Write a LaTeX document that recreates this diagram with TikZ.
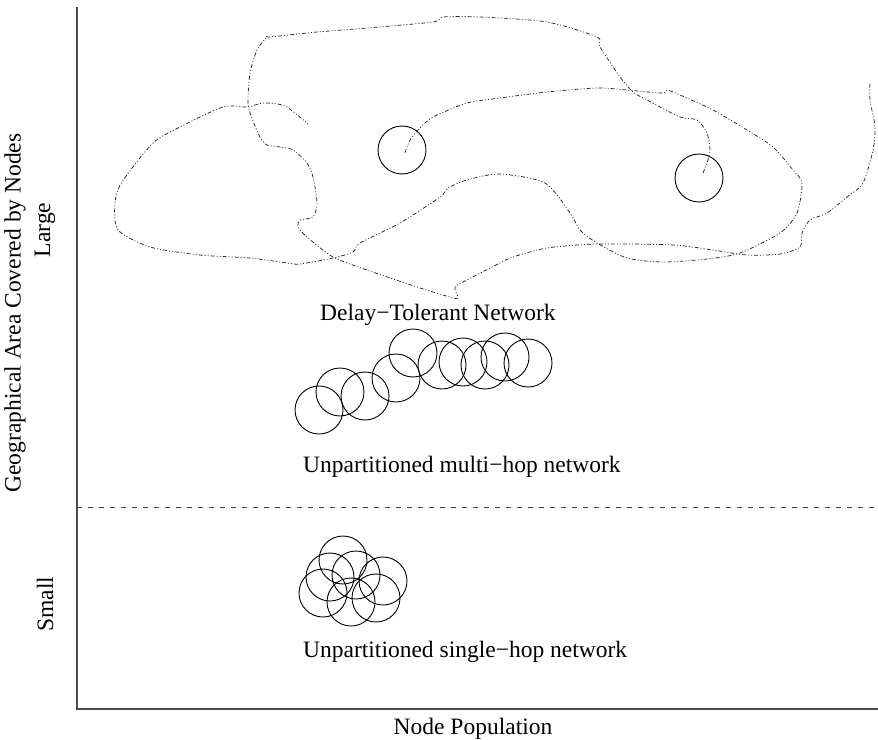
\documentclass[tikz,border=0pt]{standalone}
\usepackage{fontspec}
\setmainfont{Liberation Serif}
\begin{document}
\begin{tikzpicture}[x=1bp,y=-1bp,
  lbl/.style={font=\fontsize{23.5bp}{28bp}\selectfont, inner sep=0pt},
  radio/.style={circle, draw, line width=0.9bp, minimum size=48bp, inner sep=0pt},
  route/.style={line width=0.75bp, draw=black!85,
    dash pattern=on 4bp off 2bp on 1bp off 2bp on 1bp off 2bp},
  axis/.style={line width=1.3bp, draw=black!70}]
\useasboundingbox (0,0) rectangle (878,740);

% axes and the small/large divider
\coordinate (top) at (77,7);
\coordinate (origin) at (77,709);
\coordinate (xend) at (878,709);
\coordinate (dl) at (77,507);
\coordinate (dr) at (878,507);
\draw[axis] (top) -- (origin) -- (xend);
\draw[line width=0.9bp, draw=black!75, dash pattern=on 5bp off 6bp] (dl) -- (dr);

% axis labels
\node[lbl, rotate=90] (ylab) at (15,313) {Geographical Area Covered by Nodes};
\node[lbl, rotate=90] (large) at (45,230) {Large};
\node[lbl, rotate=90] (small) at (45,604) {Small};
\node[lbl, anchor=base] (xlab) at (473,734) {Node Population};

% delay-tolerant network: two nodes and their movement traces
\node[radio] (m1) at (402,150) {};
\node[radio] (m2) at (699,178) {};
\draw[route] plot[smooth, tension=0.45] coordinates {
  (405,153) (410,140) (420,128) (433,117) (467,103) (500,98) (547,92)
  (597,88) (627,90) (662,93) (667,90) (680,95) (713,110) (747,130)
  (773,147) (793,170) (802,183) (797,213) (780,233) (740,253) (707,259)
  (663,262) (627,258) (597,243) (580,230) (570,213) (545,183) (500,174)
  (467,180) (448,188) (440,197) (400,223) (360,243) (353,252) (333,258)
  (300,264) (287,263) (250,258) (200,255) (150,247) (118,230) (115,203)
  (122,182) (153,143) (180,127) (223,107) (248,107) (263,103) (285,106)
  (308,124)};
\draw[route] plot[smooth, tension=0.45] coordinates {
  (703,173) (707,163) (710,150) (707,133) (697,120) (680,117) (647,100)
  (633,92) (620,77) (600,47) (597,37) (547,22) (480,17) (443,17) (433,22)
  (367,28) (317,32) (270,37) (267,37) (257,50) (250,73) (248,100)
  (250,113) (260,137) (267,145) (280,147) (293,150) (307,163) (313,177)
  (317,203) (313,217) (300,220) (298,227) (307,237) (333,257) (367,270)
  (417,287) (450,297) (458,298) (455,287) (467,280) (500,263) (513,257)
  (547,248) (597,244) (673,245) (713,250) (747,255) (780,254) (800,247)
  (802,233) (810,220) (827,213) (847,197) (863,183) (873,150) (875,127)
  (870,100) (870,83)};
\node[lbl, anchor=base west] (dtn) at (320,320) {Delay−Tolerant Network};

% unpartitioned multi-hop network: a chain of overlapping ranges
\foreach \n/\p in {1/{319,410}, 2/{340,392}, 3/{365,396}, 4/{396,378},
  5/{413,353}, 6/{442,365}, 7/{463,362}, 8/{485,365}, 9/{505,357},
  10/{528,363}}
  \node[radio] (h\n) at (\p) {};
\node[lbl, anchor=base west] (mhn) at (303,472) {Unpartitioned multi−hop network};

% unpartitioned single-hop network: a tight cluster of ranges
\foreach \n/\p in {1/{343,560}, 2/{330,577}, 3/{356,575}, 4/{383,581},
  5/{323,593}, 6/{351,602}, 7/{376,598}}
  \node[radio] (s\n) at (\p) {};
\node[lbl, anchor=base west] (shn) at (303,657) {Unpartitioned single−hop network};
\end{tikzpicture}
\end{document}
